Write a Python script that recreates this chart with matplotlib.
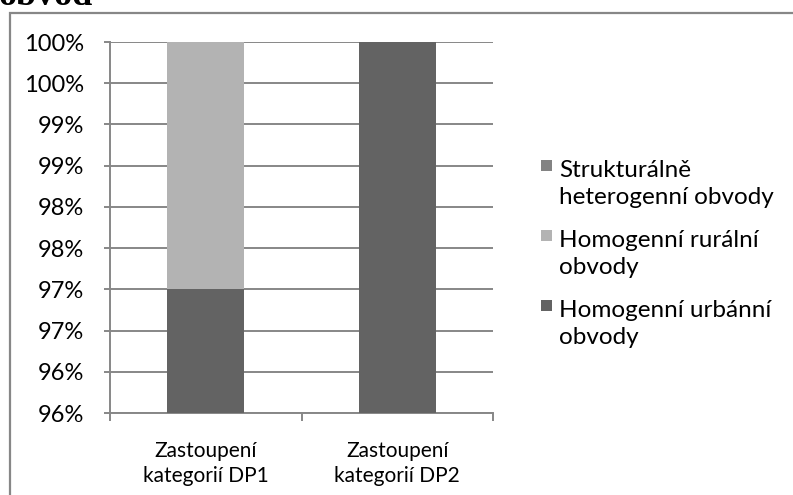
import matplotlib
matplotlib.use("Agg")
import matplotlib.pyplot as plt
from matplotlib.patches import Rectangle

# Data
categories = ["Zastoupení\nkategorií DP1", "Zastoupení\nkategorií DP2"]
series_names = ["Homogenní urbánní\nobvody", "Homogenní rurální\nobvody", "Strukturálně\nheterogenní obvody"]
urbanni = [0.97, 1.00]
ruralni = [0.03, 0.00]
heterogenni = [0.00, 0.00]
series_values = [urbanni, ruralni, heterogenni]
series_colors = ["#636363", "#b3b3b3", "#838383"]

y_ticks = [0.955, 0.96, 0.965, 0.97, 0.975, 0.98, 0.985, 0.99, 0.995, 1.0]
y_tick_labels = ["96%", "96%", "97%", "97%", "98%", "98%", "99%", "99%", "100%", "100%"]

W, H = 793, 495
fig = plt.figure(figsize=(W / 100, H / 100), dpi=100)
font = ["Lato", "DejaVu Sans"]
grid_c = "#878787"

def px(x, y):
    """pixel position (from top-left) -> figure fraction"""
    return x / W, 1 - y / H

# chart frame (runs past the right and bottom edges)
fig.patches.append(Rectangle((10 / W, -0.05), 1.2, (H - 13) / H + 0.05, transform=fig.transFigure,
                             fill=False, edgecolor=grid_c, linewidth=1.6))
# cut-off heading above the frame
fig.text(*px(-1, 5), "obvod", fontsize=26, fontweight="bold",
         family=["Liberation Serif", "DejaVu Serif"], ha="left", va="baseline")

left, right, top, bottom = 110, 493, 42, 413
ax = fig.add_axes([left / W, (H - bottom) / H, (right - left) / W, (bottom - top) / H])

x = list(range(len(categories)))
base = [0.0] * len(categories)
for vals, col in zip(series_values, series_colors):
    ax.bar(x, vals, width=0.4, bottom=base, color=col, zorder=3)
    base = [b + v for b, v in zip(base, vals)]

ax.set_xlim(-0.5, 1.5)
ax.set_ylim(y_ticks[0], y_ticks[-1])
ax.set_yticks(y_ticks)
ax.set_yticklabels(y_tick_labels, fontsize=17, family=font)
ax.yaxis.grid(True, color=grid_c, linewidth=1.4, zorder=0)
ax.tick_params(axis="y", length=4.5, width=1.4, color=grid_c, pad=14)

ax.set_xticks(x)
ax.set_xticklabels(categories, fontsize=15, family=font, linespacing=1.35)
ax.set_xticks([-0.5, 0.5, 1.5], minor=True)
ax.tick_params(axis="x", which="major", length=0, pad=20)
ax.tick_params(axis="x", which="minor", length=6, width=1.4, color=grid_c)

for s in ["top", "right"]:
    ax.spines[s].set_visible(False)
for s in ["left", "bottom"]:
    ax.spines[s].set_color(grid_c)
    ax.spines[s].set_linewidth(1.4)
ax.set_axisbelow(True)

# legend, topmost series first
first_baseline, line_step, entry_step = 177, 27, 70
for k, i in enumerate((2, 1, 0)):
    y0 = first_baseline + k * entry_step
    sq = Rectangle(px(541, y0 - 6), 11 / W, 11 / H, transform=fig.transFigure,
                   facecolor=series_colors[i], edgecolor="none")
    fig.patches.append(sq)
    for j, line in enumerate(series_names[i].split("\n")):
        fig.text(*px(559, y0 + j * line_step), line, fontsize=17.5, family=font,
                 ha="left", va="baseline")

fig.savefig("out.png", dpi=100)
